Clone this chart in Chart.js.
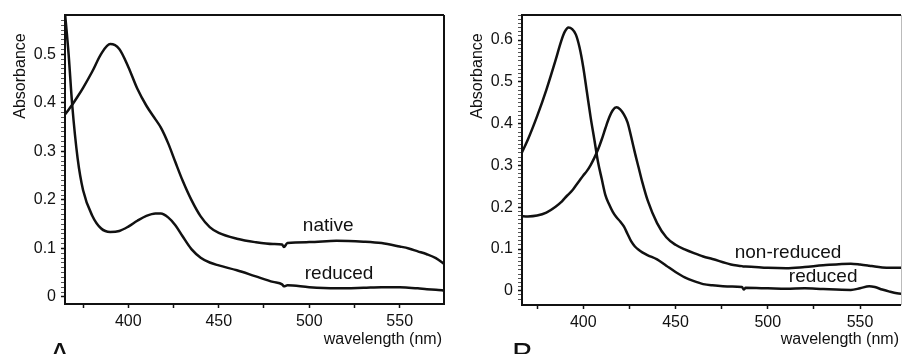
<!DOCTYPE html>
<html>
<head>
<meta charset="utf-8">
<script src="https://cdn.jsdelivr.net/npm/chart.js@4.4.1/dist/chart.umd.min.js"></script>
<style>
  html, body { margin: 0; padding: 0; background: #fff; }
  #wrap { position: relative; width: 902px; height: 354px; overflow: hidden; }
  .panel { position: absolute; top: 0; height: 354px; }
</style>
</head>
<body>
<div id="wrap">
  <div class="panel" style="left:0;width:450px"><canvas id="chartA" width="450" height="354"></canvas></div>
  <div class="panel" style="left:450px;width:452px"><canvas id="chartB" width="452" height="354"></canvas></div>
</div>
<script>
// panel A: native vs reduced
const waveA = [365, 367, 369, 372, 375, 380, 385, 390, 395, 400, 405, 410, 415, 418, 422, 426, 430, 435, 440, 445,
  450, 460, 470, 480, 485, 486, 488, 500, 515, 530, 540, 550, 555, 560, 565, 570, 575];
const nativeA = [0.376, 0.386, 0.396, 0.413, 0.431, 0.464, 0.501, 0.521, 0.511, 0.474, 0.429, 0.394, 0.366, 0.349,
  0.317, 0.278, 0.240, 0.199, 0.166, 0.144, 0.132, 0.120, 0.113, 0.109, 0.108, 0.103, 0.111, 0.113, 0.116, 0.114,
  0.111, 0.104, 0.100, 0.094, 0.088, 0.080, 0.067];
const reducedA = [0.585, 0.500, 0.395, 0.285, 0.220, 0.168, 0.141, 0.134, 0.136, 0.145, 0.157, 0.167, 0.172, 0.172,
  0.164, 0.148, 0.125, 0.098, 0.081, 0.071, 0.065, 0.055, 0.043, 0.031, 0.026, 0.022, 0.024, 0.020, 0.018, 0.019,
  0.020, 0.020, 0.019, 0.018, 0.016, 0.015, 0.013];

// panel B: non-reduced vs reduced
const waveB = [366, 370, 375, 380, 385, 388, 390, 392, 394, 396, 398, 400, 402, 404, 406, 408, 410, 412, 414, 416,
  418, 420, 422, 424, 426, 428, 430, 432, 435, 440, 445, 450, 455, 460, 465, 470, 480, 486, 487, 488, 500, 510,
  520, 530, 545, 550, 555, 558, 562, 566, 570, 575];
const nonReducedB = [0.179, 0.178, 0.180, 0.187, 0.201, 0.212, 0.222, 0.231, 0.240, 0.252, 0.264, 0.276, 0.287,
  0.301, 0.318, 0.338, 0.362, 0.389, 0.414, 0.432, 0.439, 0.434, 0.422, 0.403, 0.368, 0.330, 0.295, 0.260, 0.215,
  0.162, 0.128, 0.110, 0.099, 0.090, 0.082, 0.076, 0.063, 0.059, 0.058, 0.058, 0.055, 0.054, 0.057, 0.061, 0.065,
  0.063, 0.060, 0.058, 0.056, 0.055, 0.055, 0.055];
const reducedB = [0.324, 0.362, 0.418, 0.481, 0.552, 0.597, 0.620, 0.630, 0.626, 0.613, 0.582, 0.535, 0.475, 0.415,
  0.362, 0.308, 0.268, 0.229, 0.207, 0.189, 0.176, 0.166, 0.154, 0.136, 0.118, 0.106, 0.098, 0.092, 0.085, 0.075,
  0.060, 0.045, 0.032, 0.023, 0.016, 0.013, 0.010, 0.009, 0.003, 0.007, 0.006, 0.005, 0.006, 0.004, 0.002, 0.006,
  0.011, 0.009, 0.003, -0.002, -0.006, -0.008];

const xTicks = [375, 400, 425, 450, 475, 500, 525, 550, 575];
const xLabels = [400, 450, 500, 550];
const yLabelsA = [0, 0.1, 0.2, 0.3, 0.4, 0.5];
const yLabelsB = [0, 0.1, 0.2, 0.3, 0.4, 0.5, 0.6];

const FONT = "'Liberation Sans', Arial, Helvetica, sans-serif";
const INK = '#111';

const isOn = (v, list) => list.some(l => Math.abs(l - v) < 1e-6);

// frame, axis titles, curve names and panel letter
const decor = {
  id: 'decor',
  afterDraw(chart, args, o) {
    const { ctx, chartArea: a, scales } = chart;
    ctx.save();
    ctx.strokeStyle = INK;
    ctx.lineWidth = 2;
    ctx.beginPath();
    ctx.moveTo(a.right, a.top);
    ctx.lineTo(a.left, a.top);
    ctx.lineTo(a.left, a.bottom);
    ctx.lineTo(a.right, a.bottom);
    if (!o.openRight) ctx.lineTo(a.right, a.top);
    ctx.stroke();
    if (o.openRight) {
      ctx.strokeStyle = '#bbb';
      ctx.lineWidth = 1;
      ctx.beginPath();
      ctx.moveTo(a.right + 0.5, a.top);
      ctx.lineTo(a.right + 0.5, a.bottom);
      ctx.stroke();
    }

    ctx.fillStyle = INK;
    ctx.textBaseline = 'middle';
    ctx.textAlign = 'center';
    ctx.font = '19px ' + FONT;
    o.names.forEach(n => {
      ctx.fillText(n.text, scales.x.getPixelForValue(n.x), scales.y.getPixelForValue(n.y));
    });

    ctx.font = '16px ' + FONT;
    ctx.textAlign = 'right';
    ctx.fillText('wavelength (nm)', a.right - 2, 340);

    ctx.save();
    ctx.translate(a.left - 44, a.top + 61);
    ctx.rotate(-Math.PI / 2);
    ctx.textAlign = 'center';
    ctx.fillText('Absorbance', 0, 0);
    ctx.restore();

    ctx.font = '32px ' + FONT;
    ctx.textAlign = 'left';
    ctx.textBaseline = 'alphabetic';
    ctx.fillText(o.letter, o.letterX, 365);
    ctx.restore();
  }
};

function makeChart(id, cfg) {
  return new Chart(document.getElementById(id), {
    type: 'line',
    data: {
      labels: cfg.wave,
      datasets: cfg.series.map(s => ({
        data: s,
        borderColor: INK,
        borderWidth: 2.5,
        pointRadius: 0,
        fill: false,
        cubicInterpolationMode: 'monotone'
      }))
    },
    options: {
      responsive: false,
      animation: false,
      events: [],
      layout: { padding: { top: 15, right: cfg.padRight, left: 0, bottom: 0 } },
      plugins: {
        legend: { display: false },
        tooltip: { enabled: false },
        decor: cfg.decor
      },
      scales: {
        x: {
          type: 'linear',
          min: cfg.xMin,
          max: cfg.xMax,
          border: { display: false },
          grid: { drawOnChartArea: false, tickLength: 4, tickColor: INK, tickWidth: 1.5 },
          afterBuildTicks: scale => {
            scale.ticks = xTicks.filter(v => v >= scale.min && v <= scale.max).map(v => ({ value: v }));
          },
          afterFit: scale => { scale.height = cfg.xHeight; },
          ticks: {
            autoSkip: false,
            maxRotation: 0,
            padding: 4,
            color: INK,
            font: { family: FONT, size: 16 },
            callback: v => (isOn(v, xLabels) ? String(v) : '')
          }
        },
        y: {
          min: cfg.yMin,
          max: cfg.yMax,
          border: { display: false },
          grid: {
            drawOnChartArea: false,
            tickLength: 4,
            tickColor: ctx => (isOn(ctx.tick.value, cfg.yLabels) ? INK : '#555'),
            tickWidth: ctx => (isOn(ctx.tick.value, cfg.yLabels) ? 1.5 : 1)
          },
          afterBuildTicks: scale => {
            scale.ticks = scale.ticks.filter(t => Math.abs(t.value * 100 - Math.round(t.value * 100)) < 1e-6);
          },
          afterFit: scale => { scale.width = cfg.yWidth; },
          ticks: {
            stepSize: 0.01,
            autoSkip: false,
            padding: 5,
            color: INK,
            font: { family: FONT, size: 16 },
            callback: v => (isOn(v, cfg.yLabels) ? (Math.abs(v) < 1e-9 ? '0' : v.toFixed(1)) : '')
          }
        }
      }
    },
    plugins: [decor]
  });
}

makeChart('chartA', {
  wave: waveA,
  series: [nativeA, reducedA],
  xMin: 365, xMax: 574.5,
  yMin: -0.0145, yMax: 0.581,
  yLabels: yLabelsA,
  yWidth: 65, xHeight: 50, padRight: 6,
  decor: {
    letter: 'A', letterX: 49, openRight: false,
    names: [{ text: 'native', x: 510.5, y: 0.147 }, { text: 'reduced', x: 516.5, y: 0.048 }]
  }
});

makeChart('chartB', {
  wave: waveB,
  series: [nonReducedB, reducedB],
  xMin: 366.8, xMax: 572.2,
  yMin: -0.034, yMax: 0.66,
  yLabels: yLabelsB,
  yWidth: 72, xHeight: 49, padRight: 1,
  decor: {
    letter: 'B', letterX: 62, openRight: true,
    names: [{ text: 'non-reduced', x: 511, y: 0.090 }, { text: 'reduced', x: 530, y: 0.033 }]
  }
});
</script>
</body>
</html>
